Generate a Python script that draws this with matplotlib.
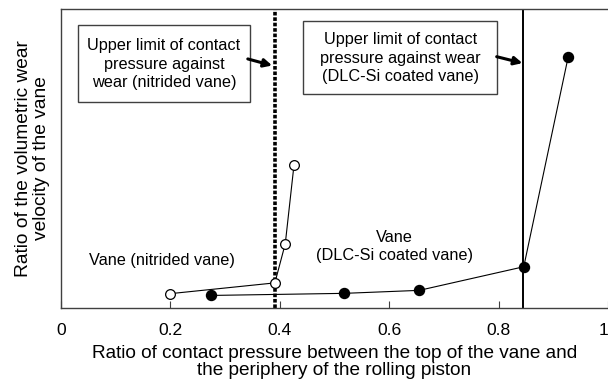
import numpy as np
import matplotlib
matplotlib.use("Agg")
import matplotlib.pyplot as plt
from matplotlib.patches import Rectangle

plt.rcParams['font.family'] = ['Liberation Sans', 'DejaVu Sans']

# nitrided vane (open circles)
nit_x = [0.20, 0.391, 0.41, 0.426]
nit_y = [0.048, 0.084, 0.215, 0.479]

# DLC-Si coated vane (filled circles)
dlc_x = [0.274, 0.518, 0.655, 0.846, 0.927]
dlc_y = [0.042, 0.049, 0.059, 0.138, 0.838]

limit_nit = 0.391
limit_dlc = 0.845

xticks = [0, 0.2, 0.4, 0.6, 0.8, 1]
xticklabels = ["0", "0.2", "0.4", "0.6", "0.8", "1"]

spine_col = '#404040'

fig = plt.figure(figsize=(6.08, 3.85), dpi=100)
ax = fig.add_axes([61/608, 77/385, 547/608, 299/385])

ax.axvline(limit_nit, color='black', lw=2.6, ls=(0, (1, 0.5)))
ax.axvline(limit_dlc, color='black', lw=1.4)

ax.plot(dlc_x, dlc_y, '-o', color='black', lw=0.8, ms=7.2,
        mfc='black', mec='black')
ax.plot(nit_x, nit_y, '-o', color='black', lw=0.8, ms=7,
        mfc='white', mec='black', mew=0.9)

ax.set_xlim(0, 1)
ax.set_ylim(0, 1)
ax.set_xticks(xticks)
ax.set_xticklabels(xticklabels)
ax.get_xticklabels()[-1].set_ha('right')  # "1" sits at the right edge
ax.set_yticks([])
ax.tick_params(axis='x', direction='in', length=5, pad=11, labelsize=12.6,
               color=spine_col)
for s in ['left', 'bottom', 'top']:
    ax.spines[s].set_color(spine_col)
    ax.spines[s].set_linewidth(1.0)
ax.spines['right'].set_visible(False)

ax.set_xlabel("Ratio of contact pressure between the top of the vane and\n"
              "the periphery of the rolling piston", fontsize=13.7,
              linespacing=1.02, labelpad=5)
ax.set_ylabel("Ratio of the volumetric wear\nvelocity of the vane",
              fontsize=13.8, linespacing=1.05, labelpad=8)

# boxes with the limit notes (axes fractions)
ax.add_patch(Rectangle((0.031, 0.690), 0.314, 0.256, transform=ax.transAxes,
                       fc='white', ec=spine_col, lw=1.0, zorder=3))
ax.text(0.188, 0.816, "Upper limit of contact\npressure against\nwear (nitrided vane)",
        transform=ax.transAxes, ha='center', va='center', fontsize=11.7,
        linespacing=1.33, zorder=4)
ax.annotate("", xy=(0.386, 0.811), xytext=(0.3415, 0.833),
            xycoords='axes fraction', textcoords='axes fraction',
            arrowprops=dict(arrowstyle='-|>', color='black', lw=2.2,
                            mutation_scale=12, shrinkA=0, shrinkB=0))

ax.add_patch(Rectangle((0.4416, 0.7147), 0.356, 0.2453, transform=ax.transAxes,
                       fc='white', ec=spine_col, lw=1.0, zorder=3))
ax.text(0.62, 0.835, "Upper limit of contact\npressure against wear\n(DLC-Si coated vane)",
        transform=ax.transAxes, ha='center', va='center', fontsize=11.7,
        linespacing=1.28, zorder=4)
ax.annotate("", xy=(0.8436, 0.819), xytext=(0.7965, 0.8405),
            xycoords='axes fraction', textcoords='axes fraction',
            arrowprops=dict(arrowstyle='-|>', color='black', lw=2.2,
                            mutation_scale=12, shrinkA=0, shrinkB=0))

ax.text(0.184, 0.16, "Vane (nitrided vane)", ha='center', va='center',
        fontsize=11.7)
ax.text(0.61, 0.207, "Vane\n(DLC-Si coated vane)", ha='center', va='center',
        fontsize=11.7, linespacing=1.24)

fig.savefig("out.png", dpi=100)
